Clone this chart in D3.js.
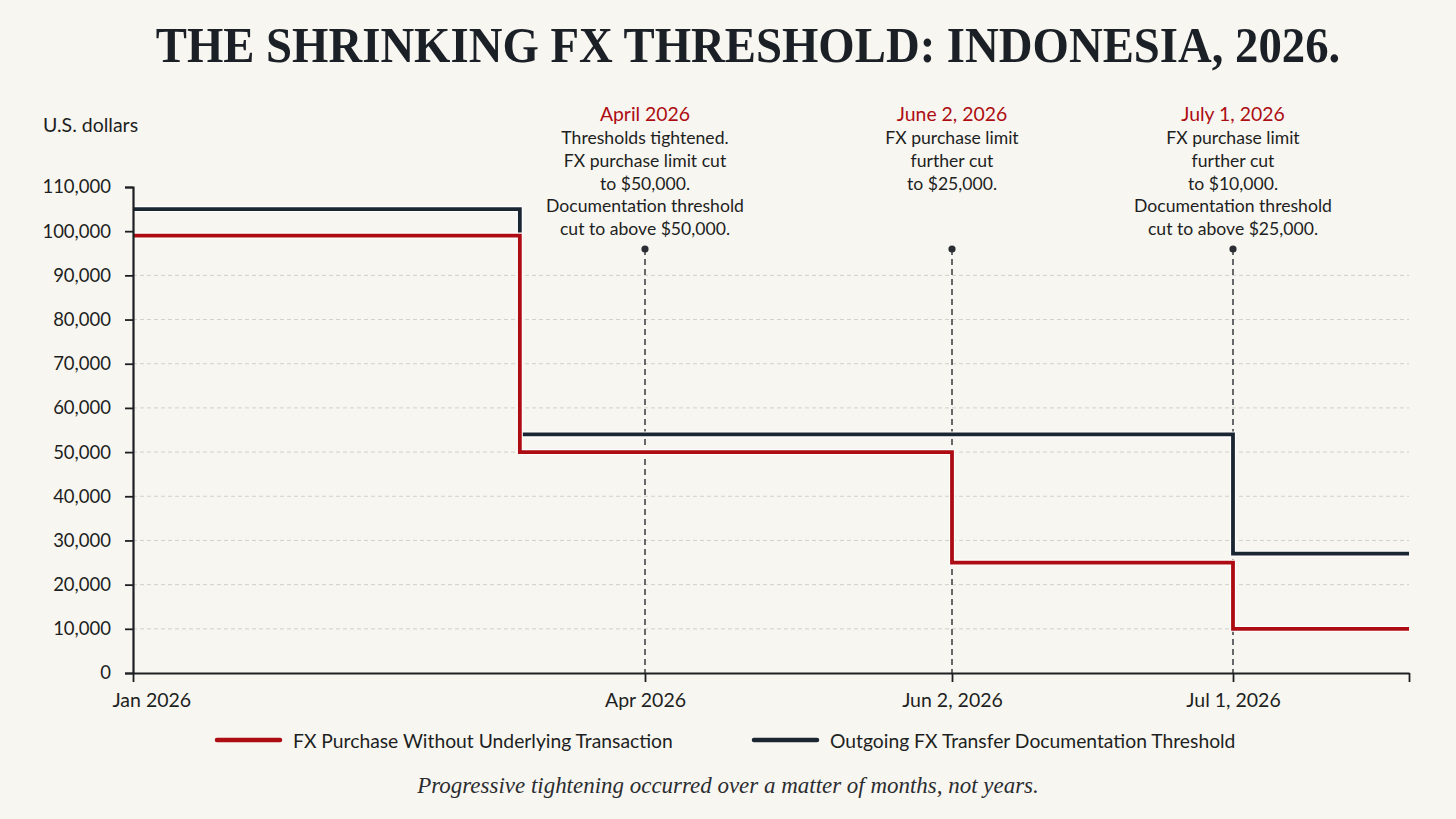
<!DOCTYPE html>
<html lang="en">
	<head>
		<meta charset="utf-8">
		<title>The Shrinking FX Threshold</title>
		<script type="text/javascript" src="https://cdn.jsdelivr.net/npm/d3@7"></script>
		<style type="text/css">
			html, body {
				margin: 0;
				padding: 0;
				background-color: #f8f6f1;
			}
			svg text {
				font-family: Lato, "Open Sans", sans-serif;
				fill: #1d1f22;
			}
		</style>
	</head>
	<body>
		<script type="text/javascript">

			//Data
			var stepDates = [new Date(2026, 0, 1), new Date(2026, 2, 10), new Date(2026, 5, 2), new Date(2026, 6, 1), new Date(2026, 7, 1)];
			var fxPurchase = [99000, 50000, 25000, 10000, 10000];
			var docThreshold = [105000, 54000, 54000, 27000, 27000];

			var axisDates = [new Date(2026, 0, 1), new Date(2026, 3, 1), new Date(2026, 5, 2), new Date(2026, 6, 1), new Date(2026, 7, 1)];
			var axisLabels = ["Jan 2026", "Apr 2026", "Jun 2, 2026", "Jul 1, 2026", ""];
			var yTicks = [0, 10000, 20000, 30000, 40000, 50000, 60000, 70000, 80000, 90000, 100000, 110000];
			var gridTicks = [10000, 20000, 30000, 40000, 50000, 60000, 70000, 80000, 90000];

			var eventDates = [new Date(2026, 3, 1), new Date(2026, 5, 2), new Date(2026, 6, 1)];
			var eventTitles = ["April 2026", "June 2, 2026", "July 1, 2026"];
			var eventNotes = [
				["Thresholds tightened.", "FX purchase limit cut", "to $50,000.", "Documentation threshold", "cut to above $50,000."],
				["FX purchase limit", "further cut", "to $25,000."],
				["FX purchase limit", "further cut", "to $10,000.", "Documentation threshold", "cut to above $25,000."]
			];
			var seriesNames = ["FX Purchase Without Underlying Transaction", "Outgoing FX Transfer Documentation Threshold"];

			//Width and height
			var w = 1456;
			var h = 819;
			var red = "#ad0d12";
			var navy = "#1b2633";

			var svg = d3.select("body")
						.append("svg")
						.attr("width", w)
						.attr("height", h);

			svg.append("rect")
				.attr("width", w)
				.attr("height", h)
				.attr("fill", "#f8f6f1");

			//Scales (x is piecewise: the axis stops are not evenly spaced in time)
			var x = d3.scaleTime()
						.domain(axisDates)
						.range([133, 645, 952, 1233, 1409]);

			var y = d3.scaleLinear()
						.domain([0, 110000])
						.range([673, 187]);

			//Gridlines
			svg.append("g")
				.selectAll("line")
				.data(gridTicks)
				.enter()
				.append("line")
				.attr("x1", x.range()[0])
				.attr("x2", x.range()[4])
				.attr("y1", function(d) { return y(d); })
				.attr("y2", function(d) { return y(d); })
				.attr("stroke", "#d3d0ca")
				.attr("stroke-width", 1)
				.attr("stroke-dasharray", "4,3");

			//Event markers
			var ev = svg.append("g")
						.selectAll("g")
						.data(eventDates)
						.enter()
						.append("g")
						.attr("transform", function(d) { return "translate(" + x(d) + ",0)"; });

			ev.append("line")
				.attr("y1", 249)
				.attr("y2", y(0))
				.attr("stroke", "#2a2d31")
				.attr("stroke-width", 1.4)
				.attr("stroke-dasharray", "6,4");

			ev.append("circle")
				.attr("cy", 249)
				.attr("r", 3.6)
				.attr("fill", "#2a2d31");

			ev.append("text")
				.attr("y", 121)
				.attr("text-anchor", "middle")
				.attr("font-size", "19.4px")
				.style("fill", red)
				.text(function(d, i) { return eventTitles[i]; });

			ev.each(function(d, i) {
				d3.select(this).selectAll("text.note")
					.data(eventNotes[i])
					.enter()
					.append("text")
					.attr("class", "note")
					.attr("y", function(t, j) { return 144 + j * 22.8; })
					.attr("text-anchor", "middle")
					.attr("font-size", "17.6px")
					.text(function(t) { return t; });
			});

			//Step lines
			var line = d3.line()
						.x(function(d) { return x(d[0]); })
						.y(function(d) { return y(d[1]); })
						.curve(d3.curveStepAfter);

			var series = [
				{ values: docThreshold, color: navy },
				{ values: fxPurchase, color: red }
			];

			series.forEach(function(s) {
				var pts = stepDates.map(function(d, i) { return [d, s.values[i]]; });
				svg.append("path")
					.attr("d", line(pts))
					.attr("fill", "none")
					.attr("stroke", "#ffffff")
					.attr("stroke-width", 6);
				svg.append("path")
					.attr("d", line(pts))
					.attr("fill", "none")
					.attr("stroke", s.color)
					.attr("stroke-width", 3.8);
			});

			//Axes
			var yAxis = d3.axisLeft(y)
							.tickValues(yTicks)
							.tickSize(8)
							.tickPadding(14)
							.tickFormat(d3.format(","));

			var gy = svg.append("g")
						.attr("transform", "translate(" + x.range()[0] + ",0)")
						.call(yAxis);
			gy.select(".domain").attr("stroke", "#1d1f22").attr("stroke-width", 2.2);
			gy.selectAll(".tick line").attr("stroke", "#1d1f22").attr("stroke-width", 1.8);
			gy.selectAll(".tick text").attr("font-size", "18.5px").style("font-family", "Lato, sans-serif").style("fill", "#1d1f22");

			var xAxis = d3.axisBottom(x)
							.tickValues(axisDates)
							.tickSize(9)
							.tickSizeOuter(0)
							.tickPadding(11)
							.tickFormat(function(d, i) { return axisLabels[i]; });

			var gx = svg.append("g")
						.attr("transform", "translate(0," + y(0) + ")")
						.call(xAxis);
			gx.select(".domain").attr("stroke", "#1d1f22").attr("stroke-width", 2.2);
			gx.selectAll(".tick line").attr("stroke", "#1d1f22").attr("stroke-width", 1.8);
			gx.selectAll(".tick text").attr("font-size", "19.5px").style("font-family", "Lato, sans-serif").style("fill", "#1d1f22");
			//first label starts just left of the axis rather than centred on it
			gx.selectAll(".tick text").filter(function(d, i) { return i === 0; })
				.attr("text-anchor", "start")
				.attr("x", -21);

			//Y axis label
			svg.append("text")
				.attr("x", 43)
				.attr("y", 132)
				.attr("font-size", "19.5px")
				.text("U.S. dollars");

			//Title
			var title = svg.append("text")
				.attr("text-anchor", "middle")
				.attr("transform", "translate(748,62) scale(1,1.1)")
				.style("font-family", "'Liberation Serif', 'DejaVu Serif', serif")
				.style("font-weight", "bold")
				.style("fill", "#1b2027")
				.attr("font-size", "52px")
				.text("THE SHRINKING FX THRESHOLD: INDONESIA, 2026.");
			var tw = title.node().getComputedTextLength();
			title.attr("font-size", (52 * 1185 / tw) + "px");

			//Legend
			var legendX = [217, 754];
			var legendColors = [red, navy];
			var lg = svg.append("g")
						.selectAll("g")
						.data(seriesNames)
						.enter()
						.append("g")
						.attr("transform", function(d, i) { return "translate(" + legendX[i] + ",740)"; });

			lg.append("line")
				.attr("x1", 0)
				.attr("x2", 63)
				.attr("stroke", function(d, i) { return legendColors[i]; })
				.attr("stroke-width", 4.5)
				.attr("stroke-linecap", "round");

			lg.append("text")
				.attr("x", 76)
				.attr("y", 8)
				.attr("font-size", "19.3px")
				.text(function(d) { return d; });

			//Footnote
			var note = svg.append("text")
				.attr("x", 728)
				.attr("y", 793)
				.attr("text-anchor", "middle")
				.style("font-family", "'Liberation Serif', 'DejaVu Serif', serif")
				.style("font-style", "italic")
				.style("fill", "#2b2d30")
				.attr("font-size", "21px")
				.text("Progressive tightening occurred over a matter of months, not years.");
			var nw = note.node().getComputedTextLength();
			note.attr("font-size", (21 * 622 / nw) + "px");

		</script>
	</body>
</html>
